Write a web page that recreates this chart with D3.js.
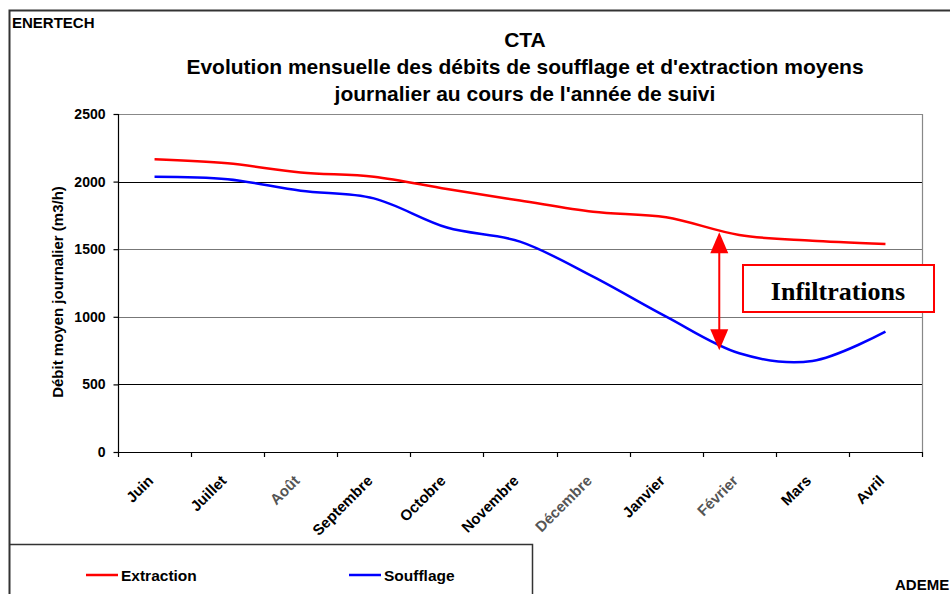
<!DOCTYPE html>
<html>
<head>
<meta charset="utf-8">
<script src="https://cdn.jsdelivr.net/npm/d3@7"></script>
<style>
body { margin: 0; background: #fff; }
</style>
</head>
<body>
<script>
var width = 950, height = 594;

var months = ["Juin", "Juillet", "Août", "Septembre", "Octobre", "Novembre", "Décembre", "Janvier", "Février", "Mars", "Avril"];
var extraction = [2165, 2135, 2068, 2036, 1945, 1860, 1777, 1736, 1605, 1563, 1538];
var soufflage = [2036, 2017, 1932, 1876, 1660, 1556, 1297, 1001, 730, 673, 890];
var yTicks = [0, 500, 1000, 1500, 2000, 2500];
// months whose labels came out greyed in the source picture
var greyLabels = ["Août", "Décembre", "Février"];

var svg = d3.select("body").append("svg")
  .attr("width", width)
  .attr("height", height)
  .attr("font-family", "Arial, 'Liberation Sans', sans-serif");

svg.append("rect").attr("width", width).attr("height", height).attr("fill", "#fff");

// outer frame (right side is beyond the picture)
svg.append("path")
  .attr("d", "M9.5,600 L9.5,10.5 L960,10.5")
  .attr("fill", "none")
  .attr("stroke", "#333")
  .attr("stroke-width", 2);

svg.append("text").attr("x", 12).attr("y", 28)
  .attr("font-size", 15).attr("font-weight", "bold").text("ENERTECH");

var titles = ["CTA", "Evolution mensuelle des débits de soufflage et d'extraction moyens", "journalier au cours de l'année de suivi"];
svg.selectAll(".title").data(titles).enter().append("text")
  .attr("class", "title")
  .attr("x", 525)
  .attr("y", function(d, i) { return 47 + i * 27; })
  .attr("text-anchor", "middle")
  .attr("font-size", 21)
  .attr("font-weight", "bold")
  .text(function(d) { return d; });

var x = d3.scaleBand().domain(months).range([118, 922]);
var y = d3.scaleLinear().domain([0, 2500]).range([452, 114]);

var plot = svg.append("g");

// grid lines
plot.selectAll(".grid").data(yTicks.slice(1, 5)).enter().append("line")
  .attr("x1", 118).attr("x2", 922)
  .attr("y1", function(d) { return Math.round(y(d)) + 0.5; })
  .attr("y2", function(d) { return Math.round(y(d)) + 0.5; })
  .attr("stroke", function(d) { return (d == 2000 || d == 500) ? "#000" : "#777"; })
  .attr("stroke-width", 1.2);

// top and right of plot area
plot.append("path")
  .attr("d", "M118," + (y(2500) + 0.5) + " L922.5," + (y(2500) + 0.5) + " L922.5,452")
  .attr("fill", "none").attr("stroke", "#888").attr("stroke-width", 1.2);

// y axis
var yAxis = plot.append("g")
  .attr("transform", "translate(118.5,0)")
  .call(d3.axisLeft(y).tickValues(yTicks).tickSize(5).tickPadding(8).tickFormat(d3.format("d")));
yAxis.selectAll("line, path").attr("stroke", "#000").attr("stroke-width", 1.2);
yAxis.select(".domain").attr("d", "M0," + y(2500) + " V" + y(0));
yAxis.selectAll("text").attr("font-size", 14).attr("font-weight", "bold")
  .attr("font-family", "Arial, 'Liberation Sans', sans-serif").attr("fill", "#000");

// x axis: line + ticks between categories
plot.append("line")
  .attr("x1", 118).attr("x2", 923)
  .attr("y1", 452.5).attr("y2", 452.5)
  .attr("stroke", "#000").attr("stroke-width", 1.2);

var bounds = d3.range(months.length + 1).map(function(i) { return x.range()[0] + i * x.step(); });
plot.selectAll(".xtick").data(bounds).enter().append("line")
  .attr("x1", function(d) { return Math.round(d) + 0.5; })
  .attr("x2", function(d) { return Math.round(d) + 0.5; })
  .attr("y1", 452).attr("y2", 457)
  .attr("stroke", "#000").attr("stroke-width", 1.2);

plot.selectAll(".xlabel").data(months).enter().append("text")
  .attr("transform", function(d) {
    return "translate(" + (x(d) + x.bandwidth() / 2 - 4) + ",478) rotate(-45)";
  })
  .attr("text-anchor", "end")
  .attr("dy", "0.35em")
  .attr("font-size", 15)
  .attr("font-weight", "bold")
  .attr("fill", function(d) { return greyLabels.indexOf(d) >= 0 ? "#555" : "#000"; })
  .text(function(d) { return d; });

// y axis title
svg.append("text")
  .attr("transform", "translate(63,292) rotate(-90)")
  .attr("text-anchor", "middle")
  .attr("font-size", 15)
  .attr("font-weight", "bold")
  .text("Débit moyen journalier (m3/h)");

// lines
var line = d3.line()
  .x(function(d, i) { return x(months[i]) + x.bandwidth() / 2; })
  .y(function(d) { return y(d); })
  .curve(d3.curveCardinal.tension(0));

plot.append("path").datum(extraction)
  .attr("d", line).attr("fill", "none")
  .attr("stroke", "#ff0000").attr("stroke-width", 2.5);

plot.append("path").datum(soufflage)
  .attr("d", line).attr("fill", "none")
  .attr("stroke", "#0000ff").attr("stroke-width", 2.5);

// Infiltrations annotation
var ax = x("Février") + x.bandwidth() / 2 - 20;
var aTop = y(1625), aBot = y(752);
var ann = svg.append("g");
ann.append("line")
  .attr("x1", ax).attr("x2", ax).attr("y1", aTop + 15).attr("y2", aBot - 15)
  .attr("stroke", "#ff0000").attr("stroke-width", 2);
ann.append("path")
  .attr("d", "M" + ax + "," + aTop + " L" + (ax - 9) + "," + (aTop + 21) + " L" + (ax + 9) + "," + (aTop + 21) + " Z")
  .attr("fill", "#ff0000");
ann.append("path")
  .attr("d", "M" + ax + "," + aBot + " L" + (ax - 9) + "," + (aBot - 21) + " L" + (ax + 9) + "," + (aBot - 21) + " Z")
  .attr("fill", "#ff0000");
ann.append("rect")
  .attr("x", 743).attr("y", 265).attr("width", 191).attr("height", 47)
  .attr("fill", "#fff").attr("stroke", "#ff0000").attr("stroke-width", 2);
ann.append("text")
  .attr("x", 838).attr("y", 300)
  .attr("text-anchor", "middle")
  .attr("font-family", "'Liberation Serif', 'Times New Roman', serif")
  .attr("font-size", 26)
  .attr("font-weight", "bold")
  .text("Infiltrations");

// legend
svg.append("path")
  .attr("d", "M9.5,544.5 L532.5,544.5 L532.5,600")
  .attr("fill", "none").attr("stroke", "#333").attr("stroke-width", 1.5);

var legendItems = [
  { name: "Extraction", color: "#ff0000", x: 86 },
  { name: "Soufflage", color: "#0000ff", x: 349 }
];
var lg = svg.selectAll(".leg").data(legendItems).enter().append("g")
  .attr("transform", function(d) { return "translate(" + d.x + ",575)"; });
lg.append("line").attr("x1", 0).attr("x2", 32).attr("y1", 0).attr("y2", 0)
  .attr("stroke", function(d) { return d.color; }).attr("stroke-width", 2.5);
lg.append("text").attr("x", 35).attr("y", 6)
  .attr("font-size", 15.5).attr("font-weight", "bold")
  .text(function(d) { return d.name; });

svg.append("text").attr("x", 895).attr("y", 590)
  .attr("font-size", 15).attr("font-weight", "bold").text("ADEME");
</script>
</body>
</html>
